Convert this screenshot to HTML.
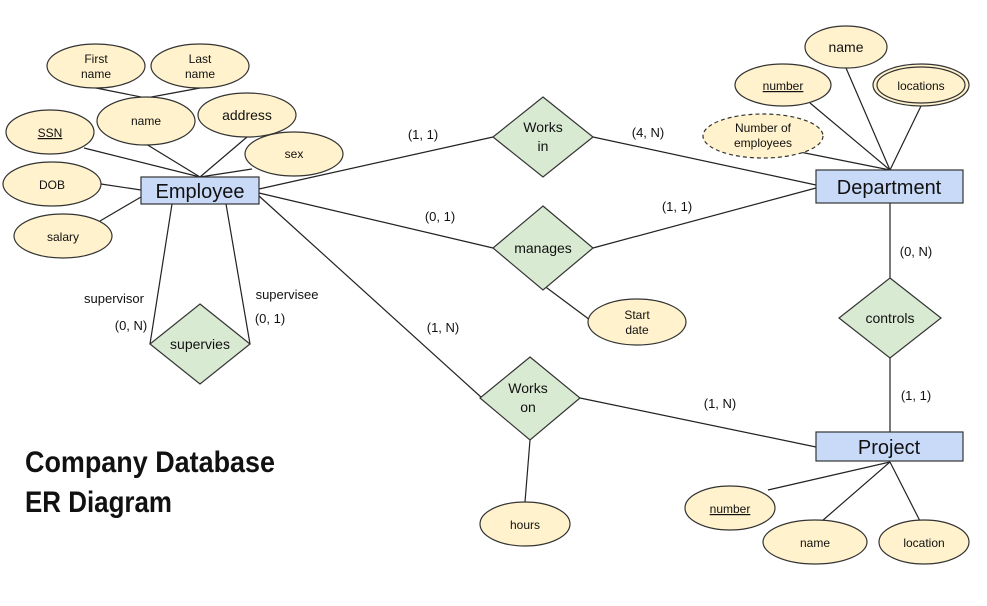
<!DOCTYPE html>
<html><head><meta charset="utf-8"><style>
html,body{margin:0;padding:0;background:#fff;}
svg text{font-family:"Liberation Sans",Arial,sans-serif;fill:#111;}
</style></head><body>
<svg width="987" height="601" viewBox="0 0 987 601" xmlns="http://www.w3.org/2000/svg">
<g stroke="#222" stroke-width="1.2" fill="none">
<line x1="96" y1="88" x2="146" y2="98"/>
<line x1="200" y1="88" x2="146" y2="98"/>
<line x1="146" y1="144" x2="200" y2="177"/>
<line x1="247" y1="137" x2="200" y2="177"/>
<line x1="84" y1="148" x2="200" y2="177"/>
<line x1="252" y1="169" x2="200" y2="177"/>
<line x1="101" y1="184" x2="141" y2="190"/>
<line x1="100" y1="221" x2="141" y2="197"/>
<line x1="259" y1="189" x2="493" y2="137"/>
<line x1="593" y1="137" x2="816" y2="185"/>
<line x1="259" y1="193" x2="493" y2="248"/>
<line x1="593" y1="248" x2="816" y2="188"/>
<line x1="259" y1="196" x2="482" y2="398"/>
<line x1="580" y1="398" x2="816" y2="447"/>
<line x1="530" y1="440" x2="525" y2="502"/>
<line x1="543" y1="285" x2="590" y2="320"/>
<line x1="890" y1="203" x2="890" y2="278"/>
<line x1="890" y1="358" x2="890" y2="432"/>
<line x1="172" y1="204" x2="150" y2="344"/>
<line x1="226" y1="204" x2="250" y2="344"/>
<line x1="890" y1="462" x2="768" y2="490"/>
<line x1="890" y1="462" x2="822" y2="521"/>
<line x1="890" y1="462" x2="920" y2="521"/>
<line x1="890" y1="170" x2="846" y2="68"/>
<line x1="890" y1="170" x2="810" y2="103"/>
<line x1="890" y1="170" x2="921" y2="106"/>
<line x1="890" y1="170" x2="800" y2="152"/>
</g>
<g fill="#fff2cc" stroke="#333" stroke-width="1.2">
<ellipse cx="96" cy="66" rx="49" ry="22"/>
<ellipse cx="200" cy="66" rx="49" ry="22"/>
<ellipse cx="146" cy="121" rx="49" ry="24"/>
<ellipse cx="247" cy="115" rx="49" ry="22"/>
<ellipse cx="50" cy="132" rx="44" ry="22"/>
<ellipse cx="294" cy="154" rx="49" ry="22"/>
<ellipse cx="52" cy="184" rx="49" ry="22"/>
<ellipse cx="63" cy="236" rx="49" ry="22"/>
<ellipse cx="846" cy="47" rx="41" ry="21"/>
<ellipse cx="783" cy="85" rx="48" ry="21"/>
<ellipse cx="921" cy="85" rx="48" ry="21"/>
<ellipse cx="921" cy="85" rx="44" ry="18"/>
<ellipse cx="763" cy="136" rx="60" ry="22" stroke-dasharray="4,3"/>
<ellipse cx="637" cy="322" rx="49" ry="23"/>
<ellipse cx="525" cy="524" rx="45" ry="22"/>
<ellipse cx="730" cy="508" rx="45" ry="22"/>
<ellipse cx="815" cy="542" rx="52" ry="22"/>
<ellipse cx="924" cy="542" rx="45" ry="22"/>
</g>
<g fill="#c9daf8" stroke="#333" stroke-width="1.2">
<rect x="141" y="177" width="118" height="27"/>
<rect x="816" y="170" width="147" height="33"/>
<rect x="816" y="432" width="147" height="29"/>
</g>
<g fill="#d9ead3" stroke="#333" stroke-width="1.2">
<polygon points="543,97 593,137 543,177 493,137"/>
<polygon points="543,206 593,248 543,290 493,248"/>
<polygon points="200,304 250,344 200,384 150,344"/>
<polygon points="530,357 580,398 530,440 480,398"/>
<polygon points="890,278 941,318 890,358 839,318"/>
</g>
<g font-size="12" text-anchor="middle">
<text x="96" y="63">First</text><text x="96" y="78">name</text>
<text x="200" y="63">Last</text><text x="200" y="78">name</text>
<text x="146" y="125">name</text>
<text x="247" y="120" font-size="14">address</text>
<text x="50" y="137" text-decoration="underline">SSN</text>
<text x="294" y="158">sex</text>
<text x="52" y="189">DOB</text>
<text x="63" y="241">salary</text>
<text x="846" y="52" font-size="14">name</text>
<text x="783" y="90" text-decoration="underline">number</text>
<text x="921" y="90">locations</text>
<text x="763" y="132">Number of</text><text x="763" y="147">employees</text>
<text x="637" y="319">Start</text><text x="637" y="334">date</text>
<text x="525" y="529">hours</text>
<text x="730" y="513" text-decoration="underline">number</text>
<text x="815" y="547">name</text>
<text x="924" y="547">location</text>
</g>
<g font-size="20" text-anchor="middle">
<text x="200" y="198">Employee</text>
<text x="889" y="194">Department</text>
<text x="889" y="454">Project</text>
</g>
<g font-size="14" text-anchor="middle">
<text x="543" y="132">Works</text><text x="543" y="151">in</text>
<text x="543" y="253">manages</text>
<text x="200" y="349">supervies</text>
<text x="528" y="393">Works</text><text x="528" y="412">on</text>
<text x="890" y="323">controls</text>
</g>
<g font-size="13" text-anchor="middle">
<text x="423" y="139">(1, 1)</text>
<text x="648" y="137">(4, N)</text>
<text x="440" y="221">(0, 1)</text>
<text x="677" y="211">(1, 1)</text>
<text x="443" y="332">(1, N)</text>
<text x="720" y="408">(1, N)</text>
<text x="916" y="256">(0, N)</text>
<text x="916" y="400">(1, 1)</text>
<text x="114" y="303">supervisor</text>
<text x="131" y="330">(0, N)</text>
<text x="287" y="299">supervisee</text>
<text x="270" y="323">(0, 1)</text>
</g>
<g font-size="30" font-weight="bold">
<text x="25" y="472" textLength="250" lengthAdjust="spacingAndGlyphs">Company Database</text>
<text x="25" y="512" textLength="147" lengthAdjust="spacingAndGlyphs">ER Diagram</text>
</g>
</svg>
</body></html>
